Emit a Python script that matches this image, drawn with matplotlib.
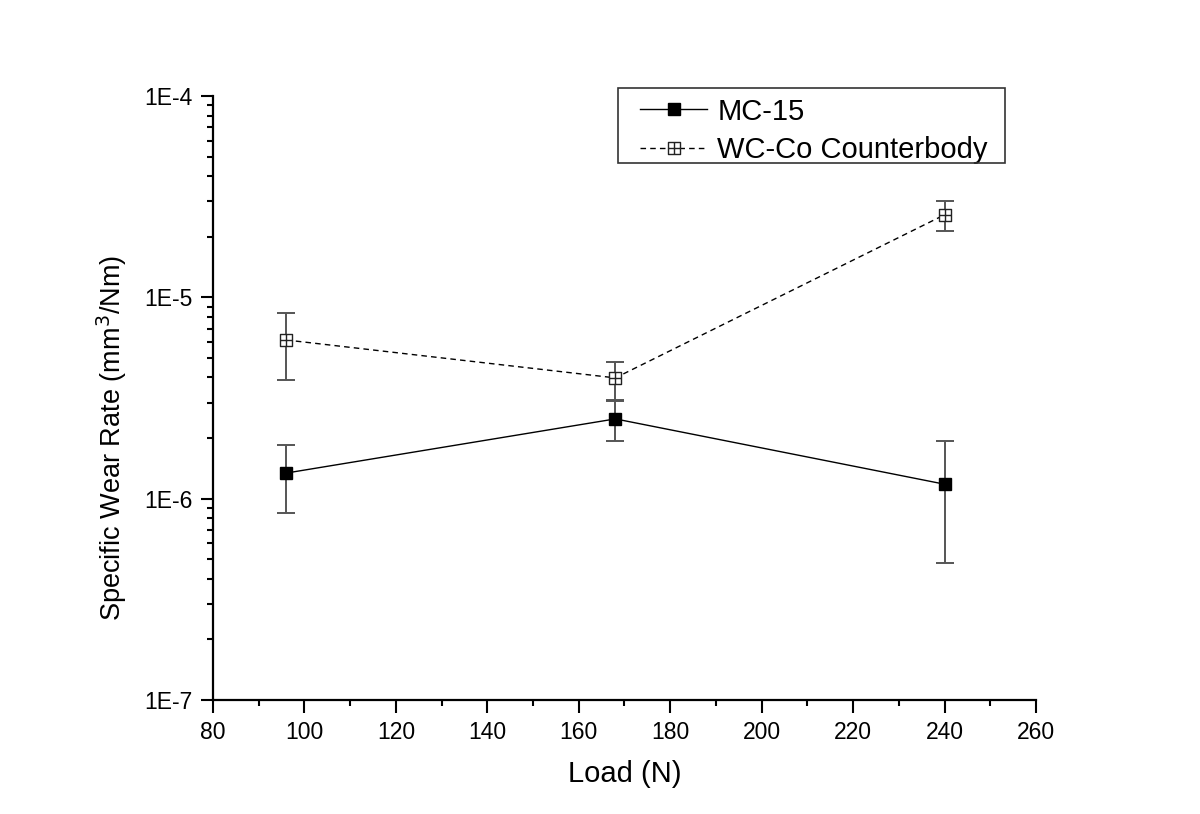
import matplotlib
matplotlib.use("Agg")
import matplotlib.pyplot as plt
from matplotlib.path import Path
from matplotlib.patches import Rectangle
from matplotlib.ticker import FixedLocator, LogLocator, NullFormatter, MultipleLocator

plt.rcParams['font.family'] = ['Liberation Sans', 'DejaVu Sans']

# Data
load = [96, 168, 240]
mc15 = [1.34e-6, 2.49e-6, 1.18e-6]
mc15_upper = [1.85e-6, 3.05e-6, 1.93e-6]
mc15_lower = [8.5e-7, 1.94e-6, 4.8e-7]
wcco = [6.14e-6, 3.98e-6, 2.57e-5]
wcco_upper = [8.36e-6, 4.79e-6, 3.01e-5]
wcco_lower = [3.89e-6, 3.10e-6, 2.14e-5]
xticks = [80, 100, 120, 140, 160, 180, 200, 220, 240, 260]
yticks = [1e-7, 1e-6, 1e-5, 1e-4]
ytick_labels = ["1E-7", "1E-6", "1E-5", "1E-4"]

W, H = 1200, 814
fig = plt.figure(figsize=(12, 8.14), dpi=100)
ax = fig.add_axes([213/W, 1 - 700/H, (1036-213)/W, (700-96)/H])

# square-with-cross marker
verts = [(-1, -1), (1, -1), (1, 1), (-1, 1), (-1, -1),
         (0, -1), (0, 1), (-1, 0), (1, 0)]
codes = [Path.MOVETO, Path.LINETO, Path.LINETO, Path.LINETO, Path.CLOSEPOLY,
         Path.MOVETO, Path.LINETO, Path.MOVETO, Path.LINETO]
sqcross = Path(verts, codes)

ecol = '#555555'
mc_err = [[m - l for m, l in zip(mc15, mc15_lower)], [u - m for m, u in zip(mc15, mc15_upper)]]
wc_err = [[m - l for m, l in zip(wcco, wcco_lower)], [u - m for m, u in zip(wcco, wcco_upper)]]

ax.errorbar(load, mc15, yerr=mc_err, fmt='none', ecolor=ecol, elinewidth=1.4,
            capsize=6.5, capthick=1.4, zorder=2)
ax.errorbar(load, wcco, yerr=wc_err, fmt='none', ecolor=ecol, elinewidth=1.4,
            capsize=6.5, capthick=1.4, zorder=2)
ax.plot(load, mc15, color='black', lw=1.0, marker='s', markersize=9.2,
        markerfacecolor='black', markeredgecolor='black', zorder=3, label='MC-15')
ax.plot(load, wcco, color='black', lw=1.0, ls=(0, (4, 3)), marker=sqcross, markersize=9.2,
        markerfacecolor='white', markeredgecolor='#222222', markeredgewidth=1.0,
        zorder=3, label='WC-Co Counterbody')

ax.set_xlim(80, 260)
ax.set_yscale('log')
ax.set_ylim(1e-7, 1e-4)
ax.xaxis.set_major_locator(FixedLocator(xticks))
ax.xaxis.set_minor_locator(MultipleLocator(10))
ax.yaxis.set_major_locator(FixedLocator(yticks))
ax.set_yticklabels(ytick_labels)
ax.yaxis.set_minor_locator(LogLocator(base=10, subs=range(2, 10)))
ax.yaxis.set_minor_formatter(NullFormatter())

for s in ['top', 'right']:
    ax.spines[s].set_visible(False)
for s in ['left', 'bottom']:
    ax.spines[s].set_linewidth(1.6)

ax.tick_params(which='major', direction='out', length=9, width=1.5, labelsize=16.5, pad=6)
ax.tick_params(which='minor', direction='out', length=4.5, width=1.5)

ax.set_xlabel('Load (N)', fontsize=21, labelpad=12)
ax.set_ylabel('Specific Wear Rate (mm$^3$/Nm)', fontsize=19.5)
ax.yaxis.set_label_coords(-0.102, (700-438)/604)

leg = ax.legend(loc='upper left', bbox_to_anchor=(640/W, 1 - 97.5/H),
                bbox_transform=fig.transFigure, fontsize=21, frameon=False,
                borderpad=0, labelspacing=0.35, handlelength=2.3, handletextpad=0.35,
                borderaxespad=0)
fig.patches.append(Rectangle((618/W, 1 - 163/H), (1005-618)/W, (163-88)/H,
                             transform=fig.transFigure, facecolor='none',
                             edgecolor='#333333', linewidth=1.2, zorder=5))

fig.savefig('out.png', dpi=100)
